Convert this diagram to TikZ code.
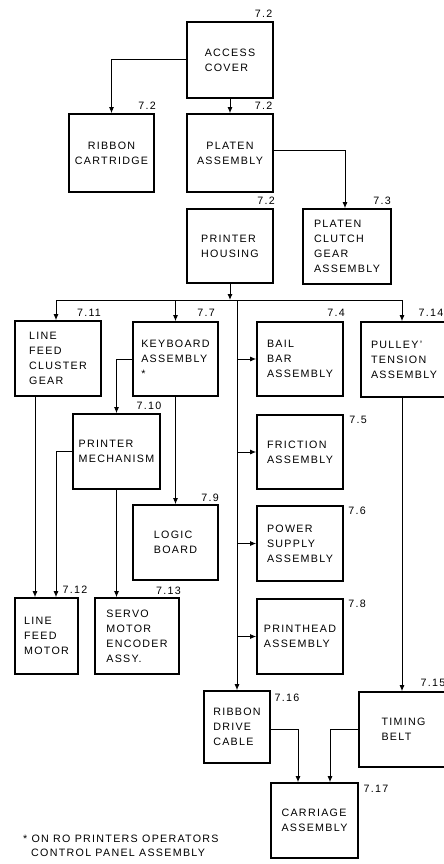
\documentclass[tikz,border=0pt]{standalone}
\usepackage{fontspec}
\setmainfont{Liberation Sans}[LetterSpace=12]
\usetikzlibrary{arrows.meta}
\begin{document}
\begin{tikzpicture}[x=1pt,y=-1pt,
  box/.style={draw,line width=1.6pt,align=left,inner sep=0pt,font=\fontsize{10.7}{15}\selectfont},
  sz/.style 2 args={minimum width=#1,minimum height=#2},
  num/.style={font=\fontsize{10.7}{12}\selectfont,inner sep=0pt},
  conn/.style={line width=1pt},
  arr/.style={conn,-{Latex[length=6pt,width=5pt]}}]
\useasboundingbox (0,0) rectangle (444,864);
\clip (0,0) rectangle (444,864);

% boxes
\node[box,sz={86pt}{76pt}] (access) at (230,60) {ACCESS\\COVER};
\node[box,align=center,sz={85pt}{78pt}] (ribbon) at (111.5,153) {RIBBON\\CARTRIDGE};
\node[box,align=center,sz={86pt}{78pt}] (platen) at (230,153) {PLATEN\\ASSEMBLY};
\node[box,sz={86pt}{74pt}] (housing) at (230,246) {PRINTER\\HOUSING};
\node[box,sz={88pt}{75pt}] (clutch) at (347,246.5) {PLATEN\\CLUTCH\\GEAR\\ASSEMBLY};
\node[box,sz={86pt}{75pt}] (lfcg) at (58,358.5) {LINE\\FEED\\CLUSTER\\GEAR};
\node[box,sz={85pt}{74pt}] (keyboard) at (175.5,359) {KEYBOARD\\ASSEMBLY\\*};
\node[box,sz={86pt}{74pt}] (bail) at (300,359) {BAIL\\BAR\\ASSEMBLY};
\node[box,sz={86pt}{75pt}] (pulley) at (404,359.5) {PULLEY'\\TENSION\\ASSEMBLY};
\node[box,sz={87pt}{75pt}] (mech) at (116.5,451.5) {PRINTER\\MECHANISM};
\node[box,sz={86pt}{74pt}] (friction) at (300,452) {FRICTION\\ASSEMBLY};
\node[box,sz={85pt}{75pt}] (logic) at (175.5,542.5) {LOGIC\\BOARD};
\node[box,sz={86pt}{75pt}] (power) at (300,543.5) {POWER\\SUPPLY\\ASSEMBLY};
\node[box,sz={63pt}{76pt}] (lfm) at (46.5,636) {LINE\\FEED\\MOTOR};
\node[box,sz={84pt}{76pt}] (servo) at (137,636) {SERVO\\MOTOR\\ENCODER\\ASSY.};
\node[box,sz={86pt}{75pt}] (printhead) at (300,636.5) {PRINTHEAD\\ASSEMBLY};
\node[box,sz={66pt}{72pt}] (rdc) at (237,727) {RIBBON\\DRIVE\\CABLE};
\node[box,sz={89pt}{75pt}] (timing) at (403.5,729.5) {TIMING\\BELT};
\node[box,sz={87pt}{75pt}] (carriage) at (314.5,820.5) {CARRIAGE\\ASSEMBLY};

% section numbers
\node[num] (n1) at (263.5,13.5) {7.2};
\node[num] (n2) at (147,105.5) {7.2};
\node[num] (n3) at (263.5,105.5) {7.2};
\node[num] (n4) at (266,201) {7.2};
\node[num] (n5) at (382,201) {7.3};
\node[num] (n6) at (89,312.5) {7.11};
\node[num] (n7) at (206,312.5) {7.7};
\node[num] (n8) at (336,312.5) {7.4};
\node[num] (n9) at (431,312.5) {7.14};
\node[num] (n10) at (149,405.5) {7.10};
\node[num] (n11) at (358,420) {7.5};
\node[num] (n12) at (210,497.5) {7.9};
\node[num] (n13) at (357,511) {7.6};
\node[num] (n14) at (75,589.5) {7.12};
\node[num] (n15) at (168.5,591) {7.13};
\node[num] (n16) at (357,604) {7.8};
\node[num] (n17) at (287,698) {7.16};
\node[num] (n18) at (433,683) {7.15};
\node[num] (n19) at (376,789) {7.17};

% footnote
\node[num,anchor=west] (fn1) at (23,839) {* ON RO PRINTERS OPERATORS};
\node[num,anchor=west] (fn2) at (31,853) {CONTROL PANEL ASSEMBLY};

% connectors
\coordinate (bus) at (230,300);
\coordinate (busL) at (56,300);
\coordinate (busR) at (402,300);
\coordinate (tr) at (237,300);
\coordinate (lf) at (35,0);

\draw[arr] (access.west) -| (ribbon.north);
\draw[arr] (access.south) -- (platen.north);
\draw[arr] ([yshift=3pt]platen.east) -| ([xshift=-2pt]clutch.north);
\draw[arr] (housing.south) -- (bus);
\draw[conn] (busL) -- (busR);
\draw[arr] (busL) -- (busL |- lfcg.north);
\draw[arr] (keyboard.north |- bus) -- (keyboard.north);
\draw[arr] (busR) -- (busR |- pulley.north);
\draw[arr] (tr) -- (rdc.north);
\draw[arr] (tr |- bail.west) -- (bail.west);
\draw[arr] (tr |- friction.west) -- (friction.west);
\draw[arr] (tr |- power.west) -- (power.west);
\draw[arr] (tr |- printhead.west) -- (printhead.west);
\draw[arr] (keyboard.west) -| (mech.north);
\draw[arr] (lfcg.south -| lf) -- (lfm.north -| lf);
\draw[arr] (mech.west) -| (lfm.north -| busL);
\draw[arr] (mech.south) -- (mech.south |- servo.north);
\draw[arr] (keyboard.south) -- (logic.north);
\draw[arr] (busR |- pulley.south) -- (busR |- timing.north);
\draw[arr] ([yshift=-2pt]rdc.east) -| ([xshift=-16.5pt]carriage.north);
\draw[arr] (timing.west) -| ([xshift=15.5pt]carriage.north);
\end{tikzpicture}
\end{document}
